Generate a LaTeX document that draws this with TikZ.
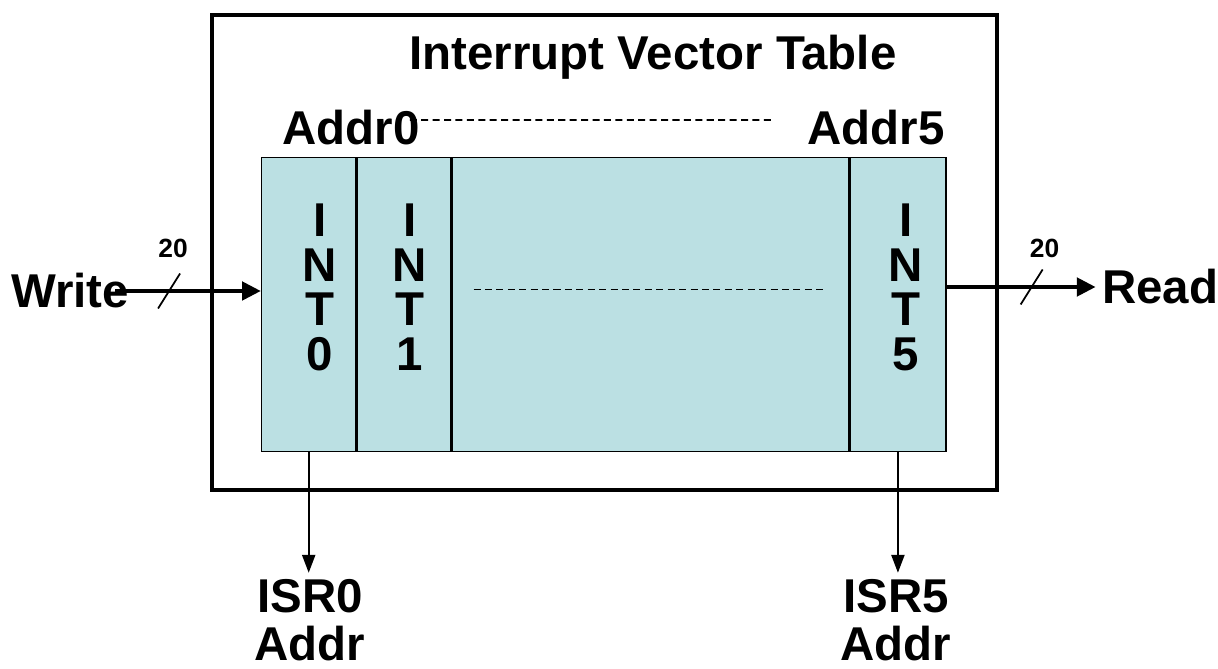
\documentclass[tikz,border=0pt]{standalone}
\usepackage{fontspec}
\setmainfont{Liberation Sans}
\usepackage{xcolor}
\usetikzlibrary{arrows.meta, positioning}
\definecolor{tablecyan}{RGB}{187,224,227}

\begin{document}
\begin{tikzpicture}[
        every node/.style={font=\bfseries\fontsize{27}{25.4}\selectfont, align=center},
        slot/.style={draw=black, line width=0.8pt, fill=tablecyan, minimum height=5.88cm, inner sep=0pt},
        bus/.style={line width=2.8pt, -{Triangle[length=0.38cm, width=0.36cm]}},
        isrline/.style={line width=1.3pt, -{Triangle[length=0.36cm, width=0.26cm]}},
        dots/.style={line width=0.9pt, dash pattern=on 4pt off 2.5pt},
        buswidth/.style={font=\bfseries\fontsize{15}{18}\selectfont},
        isrlabel/.style={font=\bfseries\fontsize{27}{27.5}\selectfont}
    ]
    \useasboundingbox (0,0) rectangle (24.36,13.36);

    % --- Outer frame ---
    \draw[line width=2.8pt] (4.24,3.56) rectangle (19.94,13.06);
    \node (title) at (13.06,12.22) {Interrupt Vector Table};

    % --- Address labels ---
    \node (addr0) at (7.02,10.80) {Addr0};
    \node (addr5) at (17.52,10.80) {Addr5};
    \coordinate (addrdots) at (15.44,10.96);
    \draw[dots] ([shift={(-0.32,0.16)}]addr0.east) -- (addrdots);

    % --- Table slots ---
    \node[slot, minimum width=1.88cm, anchor=south west] (int0) at (5.22,4.32) {};
    \node[slot, minimum width=1.88cm, right=0pt of int0] (int1) {};
    \node[slot, minimum width=7.92cm, right=0pt of int1] (mid) {};
    \node[slot, minimum width=1.92cm, right=0pt of mid] (int5) {};

    \node (t0) at ([shift={(0.22,0.34)}]int0.center) {I\\N\\T\\0};
    \node (t1) at ([shift={(0.12,0.34)}]int1.center) {I\\N\\T\\1};
    \node (t5) at ([shift={(0.16,0.34)}]int5.center) {I\\N\\T\\5};
    \draw[dots] ([shift={(-3.54,0.30)}]mid.center) -- ([shift={(3.50,0.30)}]mid.center);

    % --- Write / Read buses ---
    \node (write) at (1.40,7.54) {Write};
    \draw[bus] ([xshift=-0.4cm]write.east) -- coordinate[pos=0.37] (wtick) (write.east -| int0.west);
    \draw[line width=1pt] ([shift={(-0.22,-0.35)}]wtick) -- ([shift={(0.22,0.35)}]wtick);
    \node[buswidth] (wbits) at ([shift={(0.08,0.86)}]wtick) {20};

    \node (read) at (23.20,7.62) {Read};
    \draw[bus] (int5.east |- read.west) -- coordinate[pos=0.57] (rtick) (read.west);
    \draw[line width=1pt] ([shift={(-0.22,-0.35)}]rtick) -- ([shift={(0.22,0.35)}]rtick);
    \node[buswidth] (rbits) at ([shift={(0.26,0.78)}]rtick) {20};

    % --- ISR outputs ---
    \node[isrlabel] (isr0) at (6.20,0.96) {ISR0\\Addr};
    \node[isrlabel] (isr5) at (17.92,0.96) {ISR5\\Addr};
    \draw[isrline] (int0.south) -- (int0.south |- isr0.north);
    \draw[isrline] (int5.south) -- (int5.south |- isr5.north);

\end{tikzpicture}
\end{document}
